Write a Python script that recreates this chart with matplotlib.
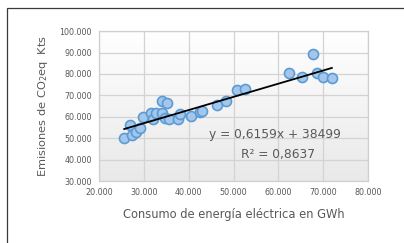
import numpy as np
import matplotlib
matplotlib.use("Agg")
import matplotlib.pyplot as plt
from matplotlib.ticker import FuncFormatter
from matplotlib.patches import Rectangle

# data
consumo_gwh = [25630, 26900, 27260, 28220, 29100, 29850, 31560, 32070, 32800,
               34150, 34150, 34670, 35190, 35600, 37630, 38000, 40440, 42440,
               43000, 46300, 48220, 50810, 52670, 62440, 65260, 67780, 68520,
               69850, 71930]
emisiones_kts = [49900, 56300, 51500, 53000, 54900, 59700, 61600, 59000, 61900,
                 61600, 67500, 59200, 66200, 58800, 58900, 61100, 60200, 62000,
                 62500, 65500, 67200, 72500, 72800, 80400, 78400, 89400, 80400,
                 78500, 78100]
slope = 0.6159
intercept = 38499
r2 = 0.8637

x_ticks = [20000, 30000, 40000, 50000, 60000, 70000, 80000]
y_ticks = [30000, 40000, 50000, 60000, 70000, 80000, 90000, 100000]


def miles(v, pos):
    # 20000 -> "20.000"
    return f"{int(v):,}".replace(",", ".")


fig = plt.figure(figsize=(4.04, 2.43), dpi=100)
fig.patch.set_facecolor("white")

# outer frame of the chart box
fig.patches.append(Rectangle((7 / 404, -0.1), 1.2, 1 - 8 / 243 + 0.1,
                             transform=fig.transFigure, fill=False,
                             edgecolor="#3a3a3a", linewidth=0.9))

ax = fig.add_axes([0.245, 0.255, 0.666, 0.617])

# gradient plot area background
grad = np.linspace(0, 1, 256).reshape(-1, 1)
ax.imshow(grad, extent=[20000, 80000, 30000, 100000], aspect="auto",
          cmap=matplotlib.colors.LinearSegmentedColormap.from_list(
              "g", ["#e9e9e9", "#ffffff"]), origin="lower", zorder=0)

ax.set_xlim(20000, 80000)
ax.set_ylim(30000, 100000)
ax.set_xticks(x_ticks)
ax.set_yticks(y_ticks)
ax.xaxis.set_major_formatter(FuncFormatter(miles))
ax.yaxis.set_major_formatter(FuncFormatter(miles))
ax.tick_params(length=0, labelsize=5.8, labelcolor="#595959", pad=5)
ax.grid(True, color="#d3d3d3", linewidth=0.9, zorder=1)
for s in ax.spines.values():
    s.set_color("#cfcfcf")
    s.set_linewidth(0.9)

ax.scatter(consumo_gwh, emisiones_kts, s=52, facecolor="#a4c6ea",
           edgecolor="#5b9bd5", linewidth=1.2, zorder=3)

xs = np.array([min(consumo_gwh), max(consumo_gwh)])
ax.plot(xs, slope * xs + intercept, color="black", linewidth=1.3, zorder=4)

eq = f"y = {slope}x + {intercept}".replace(".", ",")
ax.text(59200, 51500, eq, ha="center", va="center", fontsize=8.8,
        color="#595959", zorder=5)
ax.text(59900, 42600, f"R² = {r2}".replace(".", ","), ha="center",
        va="center", fontsize=8.8, color="#595959", zorder=5)

ax.set_xlabel("Consumo de energía eléctrica en GWh", fontsize=8.3,
              color="#595959", labelpad=8)
ax.set_ylabel("Emisiones de CO$_2$eq  Kts", fontsize=8.2, color="#595959",
              labelpad=7)

fig.savefig("out.png", dpi=100)
